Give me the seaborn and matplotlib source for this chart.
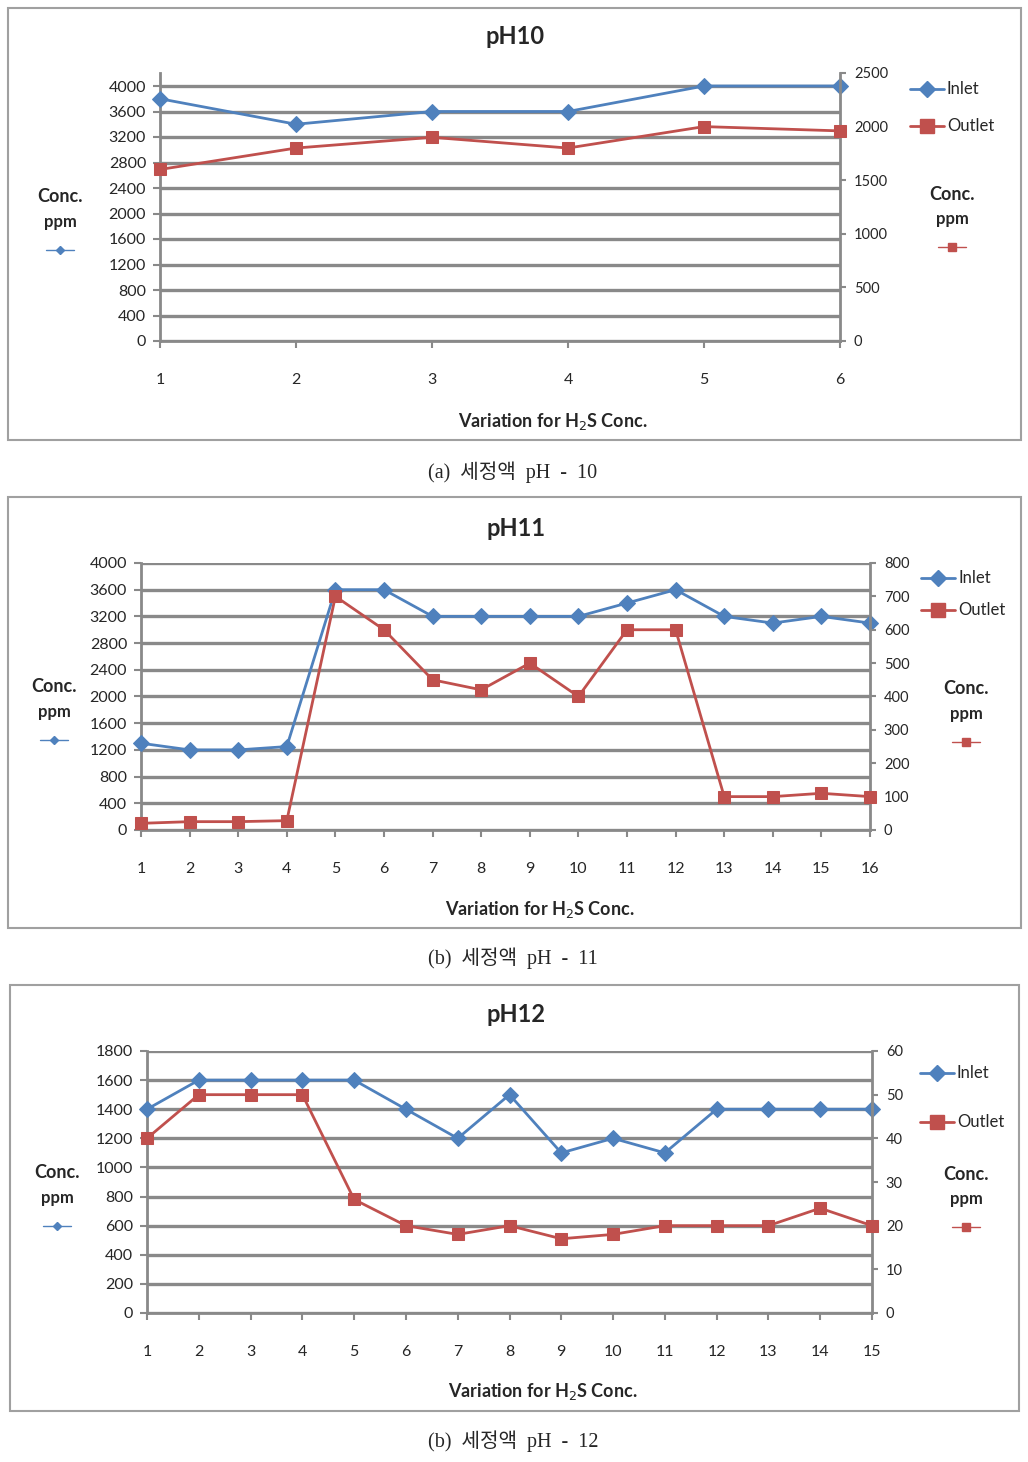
import matplotlib
matplotlib.use("Agg")
import matplotlib.pyplot as plt
import seaborn as sns
from matplotlib.lines import Line2D
from matplotlib.patches import Rectangle

# data
ph10_x = [1, 2, 3, 4, 5, 6]
ph10_inlet = [3800, 3400, 3600, 3600, 4000, 4000]
ph10_outlet = [1600, 1800, 1900, 1800, 2000, 1960]

ph11_x = list(range(1, 17))
ph11_inlet = [1300, 1200, 1200, 1250, 3600, 3600, 3200, 3200,
              3200, 3200, 3400, 3600, 3200, 3100, 3200, 3100]
ph11_outlet = [20, 25, 25, 28, 700, 600, 450, 420,
               500, 400, 600, 600, 100, 100, 110, 100]

ph12_x = list(range(1, 16))
ph12_inlet = [1400, 1600, 1600, 1600, 1600, 1400, 1200, 1500,
              1100, 1200, 1100, 1400, 1400, 1400, 1400]
ph12_outlet = [40, 50, 50, 50, 26, 20, 18, 20, 17, 18, 20, 20, 20, 24, 20]

ph10_lticks = list(range(0, 4001, 400))
ph10_rticks = list(range(0, 2501, 500))
ph11_lticks = list(range(0, 4001, 400))
ph11_rticks = list(range(0, 801, 100))
ph12_lticks = list(range(0, 1801, 200))
ph12_rticks = list(range(0, 61, 10))

titles = ["pH10", "pH11", "pH12"]
captions = ["(a)  세정액  pH  -  10", "(b)  세정액  pH  -  11", "(b)  세정액  pH  -  12"]

sns.set_style("white")
plt.rcParams['font.family'] = ['Lato', 'DejaVu Sans']

BLUE = '#4F81BD'
RED = '#C0504D'
GRID = '#898989'
W, H = 1028, 1462

fig = plt.figure(figsize=(W / 100, H / 100), dpi=100)


def fx(px):
    return px / W


def fy(py):
    return 1 - py / H


def panel(xs, inlet, outlet, lticks, lmax, rticks, rmax, title, caption, lay):
    bx0, by0, bx1, by1 = lay['box']
    fig.add_artist(Rectangle((fx(bx0), fy(by1)), (bx1 - bx0) / W, (by1 - by0) / H,
                             transform=fig.transFigure, fill=False,
                             edgecolor='#a0a0a0', lw=1.5))
    l, t, r, b = lay['plot']
    ax = fig.add_axes([fx(l), fy(b), (r - l) / W, (b - t) / H])
    sns.lineplot(x=xs, y=inlet, ax=ax, color=BLUE, marker='D', markersize=8,
                 markeredgecolor=BLUE, linewidth=2, legend=False, clip_on=False, zorder=3)
    ax.set_xlim(xs[0], xs[-1])
    ax.set_ylim(0, lmax)
    ax.set_xticks(xs)
    ax.set_yticks(lticks)
    ax.set_xlabel('')
    ax.set_ylabel('')
    ax.yaxis.grid(True, color=GRID, lw=2.4)
    ax.xaxis.grid(False)
    ax.set_axisbelow(True)
    ax.spines['top'].set_visible(False)
    ax.spines['right'].set_visible(False)
    for s in ['left', 'bottom']:
        ax.spines[s].set_color(GRID)
        ax.spines[s].set_linewidth(2)
    ax.tick_params(axis='y', length=5, width=1.5, color=GRID, pad=5, labelsize=11.5)
    ax.tick_params(axis='x', length=5, width=1.5, color=GRID, pad=18, labelsize=11.5)
    ax.tick_params(left=True, bottom=True)

    ax2 = ax.twinx()
    sns.lineplot(x=xs, y=outlet, ax=ax2, color=RED, marker='s', markersize=9,
                 markeredgecolor=RED, linewidth=2, legend=False, clip_on=False, zorder=3)
    ax2.set_ylim(0, rmax)
    ax2.set_yticks(rticks)
    ax2.set_ylabel('')
    ax2.grid(False)
    for s in ['top', 'left', 'bottom']:
        ax2.spines[s].set_visible(False)
    ax2.spines['right'].set_color(GRID)
    ax2.spines['right'].set_linewidth(2)
    ax2.tick_params(axis='y', length=4, width=1.5, color=GRID, pad=6, labelsize=10.5, right=True)

    fig.text(fx(lay['title'][0]), fy(lay['title'][1]), title, ha='center', va='center',
             fontsize=17, fontweight='bold')
    fig.text(fx(lay['xlabel'][0]), fy(lay['xlabel'][1]), "Variation for H$_2$S Conc.",
             ha='center', va='center', fontsize=13, fontweight='bold')
    fig.text(fx(513), fy(lay['caption']), caption, ha='center', va='center', fontsize=14.5,
             family=['Liberation Serif', 'Noto Sans CJK KR'])

    # "Conc. ppm" side labels with small series markers
    for (cx, cy, col, mk, ms) in [(lay['lconc'][0], lay['lconc'][1], BLUE, 'D', 4),
                                  (lay['rconc'][0], lay['rconc'][1], RED, 's', 6)]:
        fig.text(fx(cx), fy(cy), "Conc.", ha='center', va='center', fontsize=13, fontweight='bold')
        fig.text(fx(cx), fy(cy + 25), "ppm", ha='center', va='center', fontsize=12, fontweight='bold')
        fig.add_artist(Line2D([fx(cx - 14), fx(cx), fx(cx + 14)], [fy(cy + 53)] * 3,
                              transform=fig.transFigure, color=col, lw=1,
                              marker=mk, markersize=ms, markevery=[1]))

    # legend
    lx, ly1, ly2 = lay['legend']
    for (yy, col, mk, ms, lab) in [(ly1, BLUE, 'D', 8, 'Inlet'), (ly2, RED, 's', 10, 'Outlet')]:
        fig.add_artist(Line2D([fx(lx), fx(lx + 17), fx(lx + 34)], [fy(yy)] * 3,
                              transform=fig.transFigure, color=col, lw=2,
                              marker=mk, markersize=ms, markevery=[1]))
        fig.text(fx(lx + 37), fy(yy), lab, ha='left', va='center', fontsize=12)


panel(ph10_x, ph10_inlet, ph10_outlet, ph10_lticks, 4000 * 268 / 255, ph10_rticks, 2500,
      titles[0], captions[0],
      dict(box=(8, 8, 1021, 440), plot=(160, 73, 840, 341), title=(515, 37),
           xlabel=(553, 421), caption=472, lconc=(60, 197), rconc=(952, 194),
           legend=(910, 89, 126)))

panel(ph11_x, ph11_inlet, ph11_outlet, ph11_lticks, 4000, ph11_rticks, 800,
      titles[1], captions[1],
      dict(box=(8, 497, 1021, 928), plot=(141, 563, 870, 830), title=(516, 528),
           xlabel=(540, 909), caption=958, lconc=(54, 687), rconc=(966, 689),
           legend=(921, 578, 610)))

panel(ph12_x, ph12_inlet, ph12_outlet, ph12_lticks, 1800, ph12_rticks, 60,
      titles[2], captions[2],
      dict(box=(10, 985, 1019, 1411), plot=(147, 1051, 872, 1313), title=(516, 1015),
           xlabel=(543, 1392), caption=1441, lconc=(57, 1173), rconc=(966, 1174),
           legend=(920, 1073, 1122)))

fig.savefig("out.png", dpi=100)
